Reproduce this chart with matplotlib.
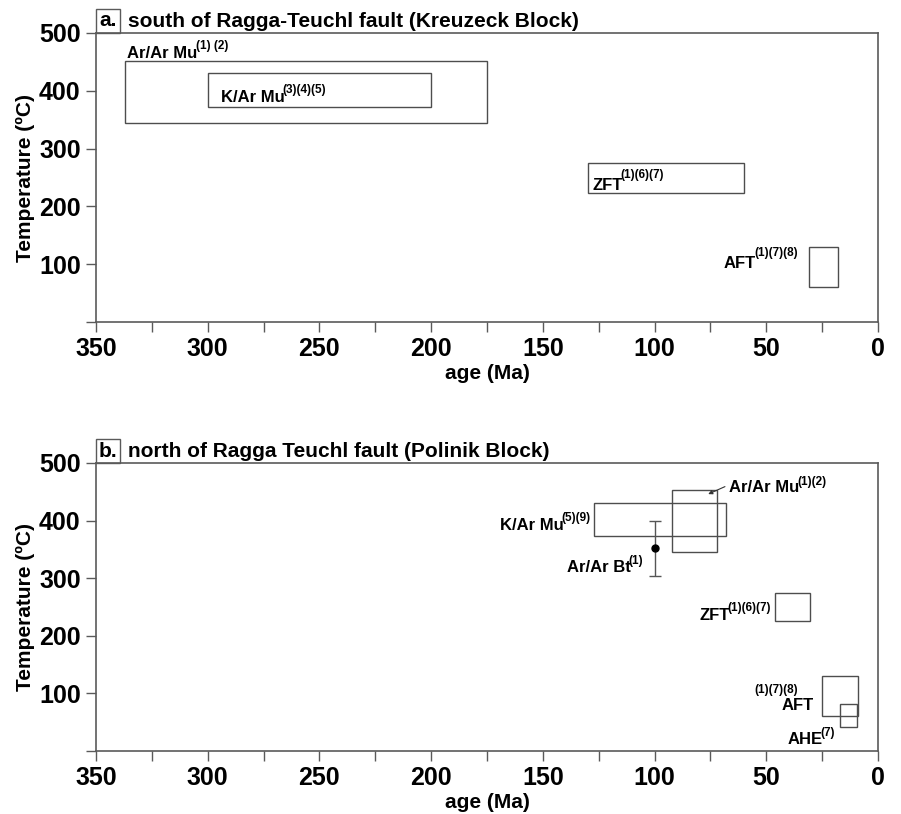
import matplotlib
matplotlib.use("Agg")
import matplotlib.pyplot as plt
from matplotlib.patches import Rectangle
from matplotlib.transforms import ScaledTranslation

plt.rcParams['font.family'] = ['Liberation Sans', 'DejaVu Sans']
plt.rcParams['font.weight'] = 'bold'

# panel a: south of Ragga-Teuchl fault
a_labels = ["Ar/Ar Mu", "K/Ar Mu", "ZFT", "AFT"]
a_refs = ["(1) (2)", "(3)(4)(5)", "(1)(6)(7)", "(1)(7)(8)"]
a_age_min = [175, 200, 60, 18]
a_age_max = [337, 300, 130, 31]
a_t_min = [345, 372, 224, 61]
a_t_max = [452, 430, 275, 130]

# panel b: north of Ragga Teuchl fault
b_labels = ["K/Ar Mu", "Ar/Ar Mu", "ZFT", "AFT", "AHE"]
b_refs = ["(5)(9)", "(1)(2)", "(1)(6)(7)", "(1)(7)(8)", "(7)"]
b_age_min = [68, 72, 30.5, 9, 9.5]
b_age_max = [127, 92, 46, 25, 17]
b_t_min = [373, 346, 225, 60, 41]
b_t_max = [431, 453, 275, 130, 81]
bt_label = "Ar/Ar Bt"
bt_ref = "(1)"
bt_age = 100
bt_temp = 352
bt_err = 48

x_major = [350, 300, 250, 200, 150, 100, 50, 0]
x_minor = [325, 275, 225, 175, 125, 75, 25]
y_ticks = [0, 100, 200, 300, 400, 500]
y_ticklabels = ["", "100", "200", "300", "400", "500"]

W, H = 901, 814
fig = plt.figure(figsize=(W / 100, H / 100), dpi=100)
ax_a = fig.add_axes([96 / W, 1 - 322 / H, 782 / W, 289 / H])
ax_b = fig.add_axes([96 / W, 1 - 751 / H, 782 / W, 288 / H])
renderer = fig.canvas.get_renderer()

spine_c = '#5a5a5a'
box_c = '#4d4d4d'


def style(ax, tag, title):
    ax.set_xlim(350, 0)
    ax.set_ylim(0, 500)
    ax.set_xticks(x_major)
    ax.set_xticks(x_minor, minor=True)
    ax.set_yticks(y_ticks)
    ax.set_yticklabels(y_ticklabels)
    ax.tick_params(which='both', direction='out', length=7, width=1, color=spine_c,
                   labelsize=18, pad=4)
    for lab in ax.get_xticklabels() + ax.get_yticklabels():
        lab.set_fontweight('bold')
    for s in ax.spines.values():
        s.set_color(spine_c)
        s.set_linewidth(1.2)
    ax.set_xlabel("age (Ma)", fontsize=15, fontweight='bold', labelpad=2)
    ax.set_ylabel("Temperature (ºC)", fontsize=15, fontweight='bold', labelpad=3)
    ax.add_patch(Rectangle((0, 1), 24 / 782, 24 / 289, transform=ax.transAxes,
                           fill=False, edgecolor=spine_c, lw=1, clip_on=False))
    ax.text(12 / 782, 1 + 12 / 289, tag, transform=ax.transAxes, ha='center', va='center',
            fontsize=15, fontweight='bold')
    ax.text(32 / 782, 1 + 6 / 289, title, transform=ax.transAxes, ha='left', va='baseline',
            fontsize=15, fontweight='bold')


def boxes(ax, amin, amax, tmin, tmax):
    for x0, x1, y0, y1 in zip(amin, amax, tmin, tmax):
        ax.add_patch(Rectangle((x1, y0), x0 - x1, y1 - y0, fill=False,
                               edgecolor=box_c, lw=1))


def label(ax, x, y, main, sup, ha='left', rise=9, fs=12, sfs=8.5, gap=-2):
    t = ax.text(x, y, main, fontsize=fs, ha='left', va='baseline')
    s = ax.text(x, y, sup, fontsize=sfs, ha='left', va='baseline')
    wm = t.get_window_extent(renderer).width
    ws = s.get_window_extent(renderer).width
    dx = -(wm + ws + gap) if ha == 'right' else 0
    t.set_transform(ax.transData + ScaledTranslation(dx / 100, 0, fig.dpi_scale_trans))
    s.set_transform(ax.transData + ScaledTranslation((dx + wm + gap) / 100, rise / 100,
                                                     fig.dpi_scale_trans))


style(ax_a, "a.", "south of Ragga-Teuchl fault (Kreuzeck Block)")
style(ax_b, "b.", "north of Ragga Teuchl fault (Polinik Block)")

boxes(ax_a, a_age_min, a_age_max, a_t_min, a_t_max)
boxes(ax_b, b_age_min, b_age_max, b_t_min, b_t_max)

# panel a labels
label(ax_a, 336, 456, a_labels[0], a_refs[0], rise=9)
label(ax_a, 294, 381, a_labels[1], a_refs[1], rise=9)
label(ax_a, 128, 228, a_labels[2], a_refs[2], rise=12)
label(ax_a, 69, 93, a_labels[3], a_refs[3], rise=12)

# panel b labels
label(ax_b, 128.6, 384, b_labels[0], b_refs[0], ha='right', rise=9)
label(ax_b, 66.8, 450, b_labels[1], b_refs[1], rise=7)
ax_b.annotate("", xy=(76, 446), xytext=(68.5, 459),
              arrowprops=dict(arrowstyle='-|>', color='#333333', lw=0.8,
                              mutation_scale=6, shrinkA=0, shrinkB=0))
label(ax_b, 48, 227, b_labels[2], b_refs[2], ha='right', rise=9)
ax_b.text(45.5, 106, b_refs[3], fontsize=8.5, ha='center', va='center')
ax_b.text(29, 72, b_labels[3], fontsize=12, ha='right', va='baseline')
label(ax_b, 40.5, 12, b_labels[4], b_refs[4], rise=8)

ax_b.errorbar(bt_age, bt_temp, yerr=bt_err, fmt='o', color='black', ecolor='#555555',
              elinewidth=1, capsize=4, capthick=1, markersize=5)
label(ax_b, 105, 311, bt_label, bt_ref, ha='right', rise=8)

fig.savefig("out.png", dpi=100)
